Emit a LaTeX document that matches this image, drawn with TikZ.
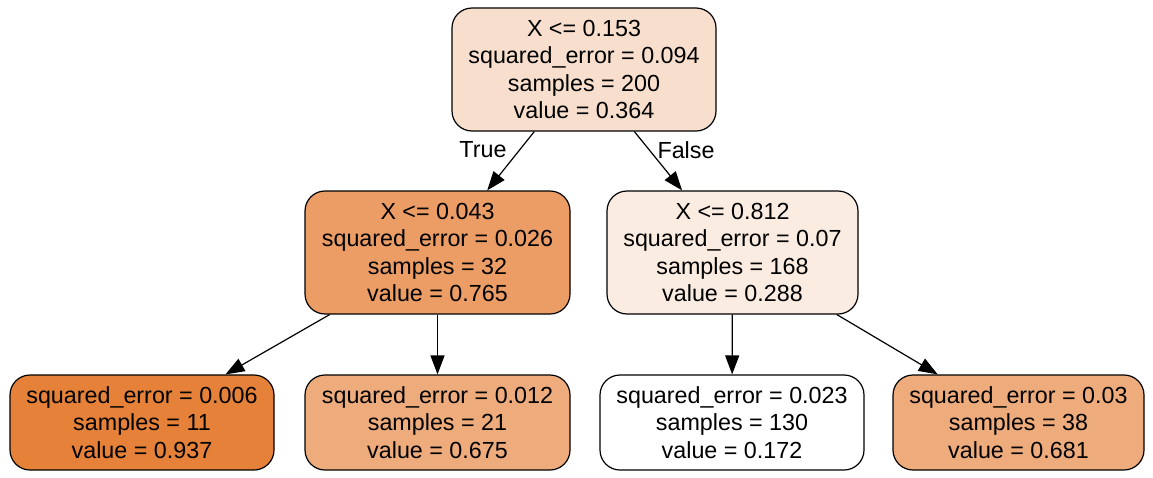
\documentclass[tikz,border=0pt]{standalone}
\usepackage{fontspec}
\setmainfont{Liberation Sans}
\usetikzlibrary{arrows.meta}
\definecolor{cRoot}{HTML}{F8DFCD}
\definecolor{cLM}{HTML}{EB9D65}
\definecolor{cRM}{HTML}{FBECE1}
\definecolor{cL1}{HTML}{E58139}
\definecolor{cL2}{HTML}{EEAC7D}
\definecolor{cL3}{HTML}{FFFFFF}
\definecolor{cL4}{HTML}{EEAB7B}
\tikzset{
  treenode/.style={draw=black, line width=1.2pt, rounded corners=20pt, rectangle,
    align=center, inner sep=0pt, font=\fontsize{23.3}{27.5}\selectfont},
  inner/.style={treenode, minimum height=123pt},
  leaf/.style={treenode, minimum height=95pt},
  edgearrow/.style={line width=1.2pt, -{Triangle[length=19pt,width=14pt]}},
  edgelabel/.style={font=\fontsize{23.3}{27.5}\selectfont, inner sep=0pt}
}
\begin{document}
\begin{tikzpicture}[x=1pt,y=-1pt]
\useasboundingbox (0,0) rectangle (1153,477);
\node[inner, fill=cRoot, minimum width=264pt] (root) at (584,69.5)
  {X <= 0.153\\squared\_error = 0.094\\samples = 200\\value = 0.364};
\node[inner, fill=cLM, minimum width=265pt] (lm) at (437.5,252.5)
  {X <= 0.043\\squared\_error = 0.026\\samples = 32\\value = 0.765};
\node[inner, fill=cRM, minimum width=251pt] (rm) at (732.5,252.5)
  {X <= 0.812\\squared\_error = 0.07\\samples = 168\\value = 0.288};
\node[leaf, fill=cL1, minimum width=264pt] (l1) at (142,422.5)
  {squared\_error = 0.006\\samples = 11\\value = 0.937};
\node[leaf, fill=cL2, minimum width=265pt] (l2) at (437.5,422.5)
  {squared\_error = 0.012\\samples = 21\\value = 0.675};
\node[leaf, fill=cL3, minimum width=264pt] (l3) at (732,422.5)
  {squared\_error = 0.023\\samples = 130\\value = 0.172};
\node[leaf, fill=cL4, minimum width=251pt] (l4) at (1018.5,422.5)
  {squared\_error = 0.03\\samples = 38\\value = 0.681};
\draw[edgearrow] (root) -- (lm);
\draw[edgearrow] (root) -- (rm);
\draw[edgearrow] (lm) -- (l1);
\draw[edgearrow] (lm) -- (l2);
\draw[edgearrow] (rm) -- (l3);
\draw[edgearrow] (rm) -- (l4);
\node[edgelabel] (tlabel) at (483,150) {True};
\node[edgelabel] (flabel) at (686,150) {False};
\end{tikzpicture}
\end{document}
